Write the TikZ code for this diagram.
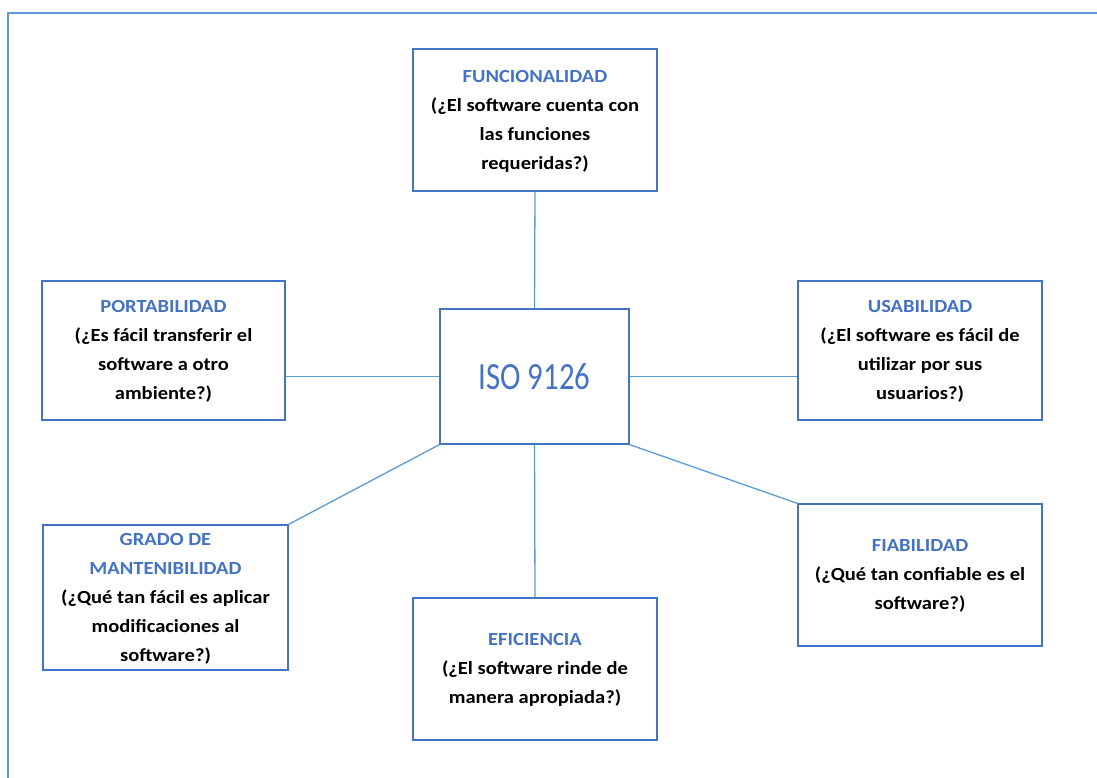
\documentclass[tikz,border=0pt]{standalone}
\usepackage{graphicx}
\usepackage{fontspec}
\setmainfont{Carlito}
\definecolor{boxblue}{HTML}{4472C4}
\definecolor{lineblue}{HTML}{5B9BD5}
% widened multi-line card text
\newcommand{\cardtext}[1]{\scalebox{1.11}[1]{\begin{tabular}{@{}c@{}}#1\end{tabular}}}
\newcommand{\cardtitle}[1]{\textcolor{boxblue}{#1}}
\begin{document}
\begin{tikzpicture}[x=1pt,y=-1pt,
  card/.style={draw=boxblue,line width=1.3pt,fill=white,align=center,
    inner sep=0pt,font=\fontsize{18.5}{29}\selectfont\bfseries},
  link/.style={draw=lineblue,line width=1.3pt}]
\useasboundingbox (0,0) rectangle (1097,778);
% page frame
\draw[lineblue,line width=2pt] (8,778) -- (8,13) -- (1097,13);
% centre box
\node[draw=boxblue,line width=1.3pt,minimum width=189pt,minimum height=135pt,
  inner sep=0pt,text=boxblue,font=\fontsize{38.5}{38.5}\selectfont] (iso) at (534.5,376.5)
  {\scalebox{0.8}[1]{ISO 9126}};
% characteristic boxes
\node[card,minimum width=244pt,minimum height=142pt] (fun) at (535,120)
  {\cardtext{\cardtitle{FUNCIONALIDAD}\\(¿El software cuenta con\\las funciones\\requeridas?)}};
\node[card,minimum width=243pt,minimum height=139pt] (por) at (163.5,350.5)
  {\cardtext{\cardtitle{PORTABILIDAD}\\(¿Es fácil transferir el\\software a otro\\ambiente?)}};
\node[card,minimum width=244pt,minimum height=139pt] (usa) at (920,350.5)
  {\cardtext{\cardtitle{USABILIDAD}\\(¿El software es fácil de\\utilizar por sus\\usuarios?)}};
\node[card,minimum width=245pt,minimum height=139pt] (gra) at (165.5,597.5)
  {\cardtext{\cardtitle{GRADO DE}\\\cardtitle{MANTENIBILIDAD}\\(¿Qué tan fácil es aplicar\\modificaciones al\\software?)}};
\node[card,minimum width=244pt,minimum height=142pt] (fia) at (920,575)
  {\cardtext{\cardtitle{FIABILIDAD}\\(¿Qué tan confiable es el\\software?)}};
\node[card,minimum width=244pt,minimum height=142pt] (efi) at (535,669)
  {\cardtext{\cardtitle{EFICIENCIA}\\(¿El software rinde de\\manera apropiada?)}};
% connectors
\draw[link] (fun.south) -- (iso.north);
\draw[link] (iso.west) -- (iso.west -| por.east);
\draw[link] (iso.east) -- (iso.east -| usa.west);
\draw[link] (iso.south) -- (efi.north);
\draw[link] (iso.south west) -- (gra.north east);
\draw[link] (iso.south east) -- (fia.north west);
\end{tikzpicture}
\end{document}
